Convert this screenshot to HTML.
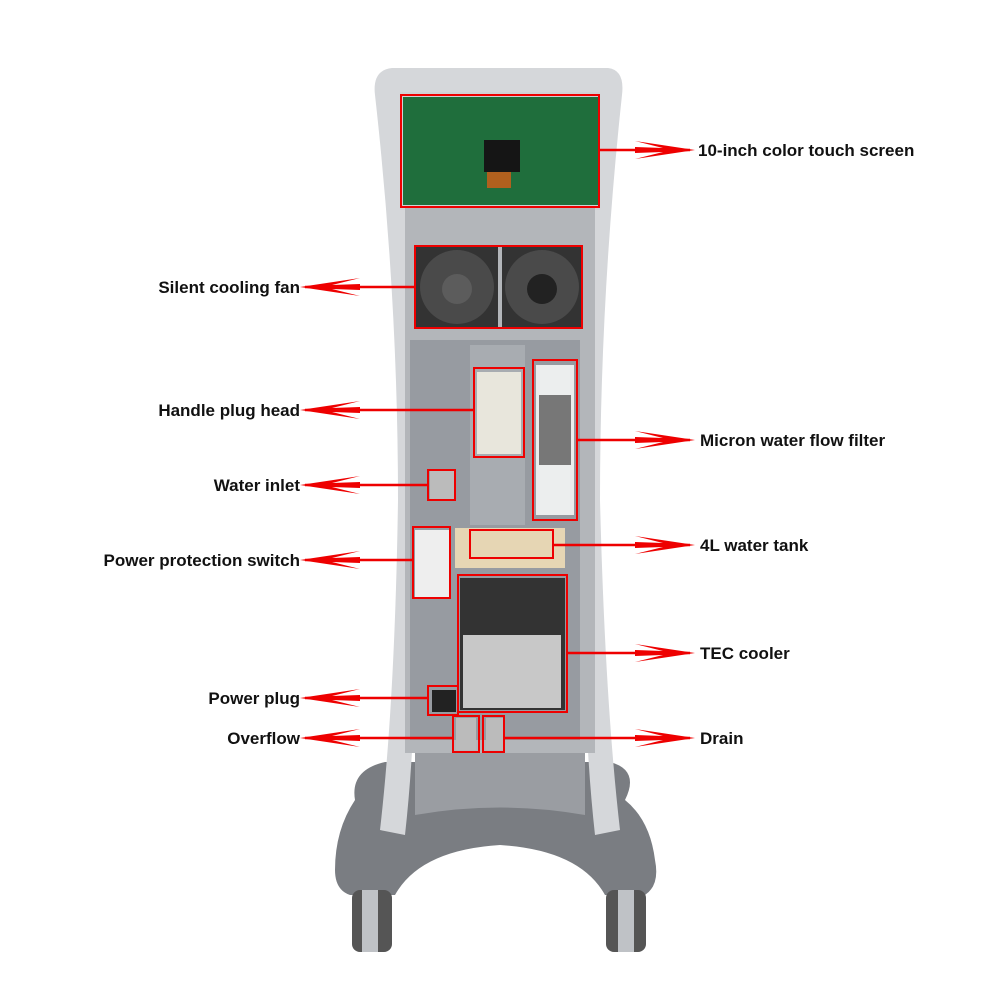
<!DOCTYPE html>
<html><head><style>
body{margin:0;background:#fff;}
svg{display:block}
text{font-family:"Liberation Sans",sans-serif;font-weight:bold;font-size:17px;fill:#111}
</style></head><body>
<svg width="1000" height="1000" viewBox="0 0 1000 1000">
<defs>
<path id="ah" d="M0,0 L-60,-9 L-32,-2 L-60,-3 L-60,3 L-32,2 L-60,9 Z" fill="#e00"/>
</defs>
<!-- base -->
<path d="M385,762 Q350,770 355,800 Q335,830 335,870 Q335,890 350,895 L395,895 Q420,850 500,845 Q580,850 605,895 L645,895 Q660,885 655,860 Q650,820 625,800 Q640,770 610,762 Z" fill="#7a7d82"/>
<rect x="352" y="890" width="40" height="62" rx="8" fill="#555"/><rect x="362" y="890" width="16" height="62" fill="#bfc2c6"/>
<rect x="606" y="890" width="40" height="62" rx="8" fill="#555"/><rect x="618" y="890" width="16" height="62" fill="#bfc2c6"/>
<path d="M415,750 L585,750 L585,815 Q500,800 415,815 Z" fill="#9a9da2"/>
<!-- column -->
<path d="M392,68 L608,68 Q625,70 622,95 Q600,300 600,500 Q605,700 620,830 L595,835 Q580,700 585,500 L415,500 Q420,700 405,835 L380,830 Q395,700 398,500 Q398,300 375,95 Q372,70 392,68 Z" fill="#d5d7da"/>
<rect x="400" y="92" width="200" height="118" fill="#d0d2d5"/>
<rect x="403" y="97" width="195" height="108" fill="#1f6e3c"/>
<rect x="484" y="140" width="36" height="32" fill="#151515"/>
<rect x="487" y="172" width="24" height="16" fill="#b0601e"/>
<rect x="405" y="208" width="190" height="545" fill="#b3b6ba"/>
<rect x="410" y="340" width="170" height="400" fill="#979ba1"/>
<!-- fans -->
<rect x="416" y="247" width="82" height="80" fill="#333"/><circle cx="457" cy="287" r="37" fill="#4a4a4a"/><circle cx="457" cy="289" r="15" fill="#5c5c5c"/>
<rect x="502" y="247" width="80" height="80" fill="#333"/><circle cx="542" cy="287" r="37" fill="#4a4a4a"/><circle cx="542" cy="289" r="15" fill="#222"/>
<rect x="470" y="345" width="55" height="180" fill="#a8acb1"/>
<rect x="477" y="372" width="44" height="82" fill="#e8e6dc"/>
<rect x="536" y="365" width="38" height="150" fill="#eceeee"/><rect x="539" y="395" width="32" height="70" fill="#777"/>
<rect x="430" y="470" width="24" height="30" fill="#bbb"/>
<rect x="455" y="528" width="110" height="40" fill="#e6d6b4"/>
<rect x="415" y="530" width="34" height="67" fill="#eee"/>
<rect x="460" y="578" width="105" height="132" fill="#333"/>
<rect x="463" y="635" width="98" height="73" fill="#c8c8c8"/>
<rect x="432" y="690" width="24" height="22" fill="#222"/>
<rect x="456" y="718" width="20" height="32" fill="#bbb"/><rect x="486" y="718" width="17" height="32" fill="#bbb"/>
<!-- red boxes -->
<g fill="none" stroke="#e00" stroke-width="2">
<rect x="401" y="95" width="198" height="112"/>
<rect x="415" y="246" width="167" height="82"/>
<rect x="474" y="368" width="50" height="89"/>
<rect x="533" y="360" width="44" height="160"/>
<rect x="428" y="470" width="27" height="30"/>
<rect x="470" y="530" width="83" height="28"/>
<rect x="413" y="527" width="37" height="71"/>
<rect x="458" y="575" width="109" height="137"/>
<rect x="428" y="686" width="30" height="29"/>
<rect x="453" y="716" width="26" height="36"/>
<rect x="483" y="716" width="21" height="36"/>
</g>
<g stroke="#e00" stroke-width="2.5">
<line x1="599" y1="150" x2="690" y2="150"/>
<line x1="415" y1="287" x2="305" y2="287"/>
<line x1="474" y1="410" x2="305" y2="410"/>
<line x1="577" y1="440" x2="690" y2="440"/>
<line x1="428" y1="485" x2="305" y2="485"/>
<line x1="553" y1="545" x2="690" y2="545"/>
<line x1="413" y1="560" x2="305" y2="560"/>
<line x1="567" y1="653" x2="690" y2="653"/>
<line x1="428" y1="698" x2="305" y2="698"/>
<line x1="453" y1="738" x2="305" y2="738"/>
<line x1="504" y1="738" x2="690" y2="738"/>
</g>
<use href="#ah" transform="translate(695,150)"/>
<use href="#ah" transform="translate(695,440)"/>
<use href="#ah" transform="translate(695,545)"/>
<use href="#ah" transform="translate(695,653)"/>
<use href="#ah" transform="translate(695,738)"/>
<use href="#ah" transform="translate(300,287) scale(-1,1)"/>
<use href="#ah" transform="translate(300,410) scale(-1,1)"/>
<use href="#ah" transform="translate(300,485) scale(-1,1)"/>
<use href="#ah" transform="translate(300,560) scale(-1,1)"/>
<use href="#ah" transform="translate(300,698) scale(-1,1)"/>
<use href="#ah" transform="translate(300,738) scale(-1,1)"/>
<text x="698" y="156">10-inch color touch screen</text>
<text x="700" y="446">Micron water flow filter</text>
<text x="700" y="551">4L water tank</text>
<text x="700" y="659">TEC cooler</text>
<text x="700" y="744">Drain</text>
<g text-anchor="end">
<text x="300" y="293">Silent cooling fan</text>
<text x="300" y="416">Handle plug head</text>
<text x="300" y="491">Water inlet</text>
<text x="300" y="566">Power protection switch</text>
<text x="300" y="704">Power plug</text>
<text x="300" y="744">Overflow</text>
</g>
</svg>
</body></html>
